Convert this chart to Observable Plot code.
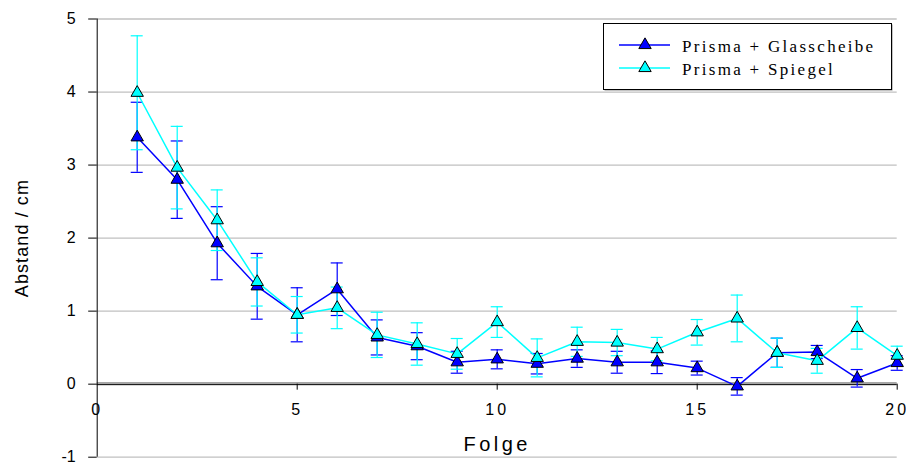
<!DOCTYPE html>
<html><head><meta charset="utf-8">
<script src="https://cdn.jsdelivr.net/npm/d3@7"></script>
<script src="https://cdn.jsdelivr.net/npm/@observablehq/plot@0.6"></script>
<style>
body{margin:0;background:#fff;}
#wrap{position:relative;width:906px;height:462px;}
#legend{position:absolute;left:603px;top:23px;}
</style></head><body><div id="wrap"></div>
<script>
const folge = [1,2,3,4,5,6,7,8,9,10,11,12,13,14,15,16,17,18,19,20];
const glasMean = [3.38,2.80,1.93,1.34,0.95,1.30,0.64,0.52,0.30,0.34,0.28,0.35,0.30,0.30,0.22,-0.03,0.43,0.44,0.08,0.29];
const glasErr  = [0.48,0.53,0.50,0.45,0.37,0.36,0.24,0.185,0.15,0.13,0.14,0.12,0.15,0.155,0.095,0.12,0.20,0.09,0.12,0.10];
const spiegelMean = [3.99,2.965,2.245,1.40,0.95,1.045,0.675,0.55,0.415,0.85,0.36,0.58,0.57,0.48,0.71,0.90,0.43,0.32,0.77,0.39];
const spiegelErr  = [0.78,0.565,0.415,0.33,0.25,0.285,0.31,0.29,0.21,0.21,0.26,0.20,0.18,0.16,0.175,0.32,0.20,0.17,0.29,0.13];
const seriesNames = ["Prisma + Glasscheibe","Prisma + Spiegel"];
const seriesColors = ["#0000ff","#00ffff"];
const yTicks = [-1,0,1,2,3,4,5];
const xTicks = [0,5,10,15,20];
const xTitle = "Folge";
const yTitle = "Abstand / cm";

const seriesData = [
  folge.map((f,i)=>({folge:f, v:glasMean[i], lo:glasMean[i]-glasErr[i], hi:glasMean[i]+glasErr[i]})),
  folge.map((f,i)=>({folge:f, v:spiegelMean[i], lo:spiegelMean[i]-spiegelErr[i], hi:spiegelMean[i]+spiegelErr[i]}))
];

const seriesMarks = [];
seriesData.forEach((rows,k)=>{
  const c = seriesColors[k];
  seriesMarks.push(
    Plot.line(rows,{x:"folge",y:"v",stroke:c,strokeWidth:1.5}),
    Plot.ruleX(rows,{x:"folge",y1:"lo",y2:"hi",stroke:c,strokeWidth:1.2}),
    Plot.ruleY(rows,{y:"lo",x1:"folge",x2:"folge",insetLeft:-6,insetRight:-6,stroke:c,strokeWidth:1.2}),
    Plot.ruleY(rows,{y:"hi",x1:"folge",x2:"folge",insetLeft:-6,insetRight:-6,stroke:c,strokeWidth:1.2})
  );
});
const dotMarks = seriesData.map((rows,k)=>Plot.dot(rows,{x:"folge",y:"v",symbol:"triangle",r:4.6,fill:seriesColors[k],stroke:"#000",strokeWidth:1}));

const plot = Plot.plot({
  width:906, height:462,
  marginLeft:96.7, marginRight:9.3, marginTop:18.5, marginBottom:5.3,
  x:{domain:[0,20], axis:null},
  y:{domain:[-1,5], axis:null},
  style:{fontFamily:"'Liberation Sans', Arial, sans-serif", fontSize:"16px", background:"white", color:"#000"},
  marks:[
    Plot.ruleY(yTicks,{stroke:"#c0c0c0",strokeWidth:1.3}),
    Plot.ruleY([0],{stroke:"#a6a6a6",strokeWidth:2.5,dy:-1}),
    Plot.ruleY([0],{stroke:"#000",strokeWidth:1,dy:0.5}),
    Plot.ruleX([0],{stroke:"#000",strokeWidth:1}),
    Plot.axisY({ticks:yTicks,tickSize:8.5,tickPadding:13,tickFormat:d=>String(d),label:null,fontSize:16}),
    Plot.ruleX(xTicks.filter(d=>d>0),{y1:0,y2:0,insetBottom:-6,stroke:"#000"}),
    Plot.text(xTicks,{x:d=>d,y:0,dy:26,text:d=>String(d),fontSize:16,ariaDescription:"xticklabel"}),
    Plot.text([xTitle],{frameAnchor:"bottom",textAnchor:"middle",lineAnchor:"middle",dy:-13,fontSize:20,ariaDescription:"xtitle"}),
    Plot.text([yTitle],{frameAnchor:"left",textAnchor:"middle",lineAnchor:"middle",dx:-75.4,rotate:-90,fontSize:18,ariaDescription:"ytitle"}),
    ...seriesMarks,
    ...dotMarks
  ]
});
const wrap = document.getElementById("wrap");
wrap.appendChild(plot);
// letter spacing for spaced labels
d3.select(plot).selectAll('[aria-description="xticklabel"] text').attr("letter-spacing","3px");
d3.select(plot).selectAll('[aria-description="xtitle"] text').attr("letter-spacing","3.5px");
d3.select(plot).selectAll('[aria-description="ytitle"] text').attr("letter-spacing","1.1px");

// legend
const tri = d3.symbol().type(d3.symbolTriangle).size(Math.PI*4.6*4.6)();
const leg = d3.select(wrap).append("svg").attr("id","legend").attr("width",292).attr("height",70);
leg.append("rect").attr("x",1.5).attr("y",1.5).attr("width",288).attr("height",66).attr("fill","#888");
leg.append("rect").attr("x",0.5).attr("y",0.5).attr("width",288).attr("height",66).attr("fill","#fff").attr("stroke","#000");
seriesNames.forEach((name,k)=>{
  const cy = 22 + k*23;
  leg.append("line").attr("x1",16).attr("x2",67).attr("y1",cy).attr("y2",cy).attr("stroke",seriesColors[k]).attr("stroke-width",1.5);
  leg.append("path").attr("d",tri).attr("transform",`translate(42,${cy})`).attr("fill",seriesColors[k]).attr("stroke","#000");
  leg.append("text").attr("x",79).attr("y",cy+7).text(name)
    .attr("font-family","'Liberation Serif','Times New Roman',serif").attr("font-size",17).attr("letter-spacing","2.3px").attr("fill","#000");
});
</script></body></html>
